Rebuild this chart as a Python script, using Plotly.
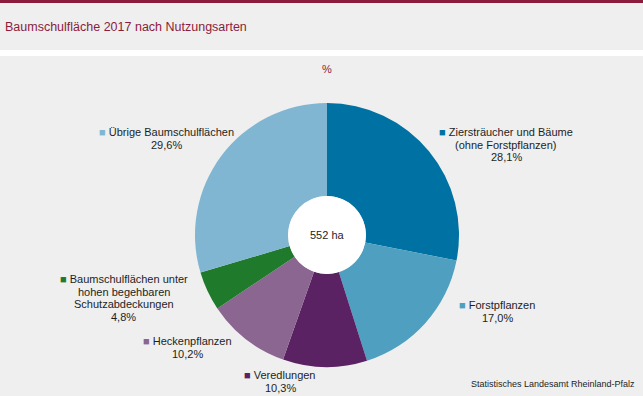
import plotly.graph_objects as go

W, H = 643, 396

categories = [
    "Ziersträucher und Bäume<br>(ohne Forstpflanzen)",
    "Forstpflanzen",
    "Veredlungen",
    "Heckenpflanzen",
    "Baumschulflächen unter<br>hohen begehbaren<br>Schutzabdeckungen",
    "Übrige Baumschulflächen",
]
shares = [28.1, 17.0, 10.3, 10.2, 4.8, 29.6]
colors = ["#0071A3", "#4F9FC1", "#5B2263", "#8A6690", "#1F7A2B", "#80B6D2"]
pct_labels = ["28,1%", "17,0%", "10,3%", "10,2%", "4,8%", "29,6%"]
total_label = "552 ha"
title_text = "Baumschulfläche 2017 nach Nutzungsarten"
unit_text = "%"
source_text = "Statistisches Landesamt Rheinland-Pfalz"

# label block anchors in pixels (centre x, first line y) - layout only
label_pos = [(506, 132), (497, 305), (280, 375), (187, 341), (124, 279), (166, 132.5)]
LINE_STEP = 12.6

BG = "#EEEFEE"
MAROON = "#8C1C3C"
FONT = "Liberation Sans, Arial, sans-serif"
TXT = "#1E1E1E"


def px(x):
    return x / W


def py(y):
    return 1 - y / H


cx, cy, r = 327, 235, 132
hole = 0.295

fig = go.Figure(
    go.Pie(
        labels=[c.replace("<br>", " ") for c in categories],
        values=shares,
        marker=dict(colors=colors, line=dict(width=0)),
        sort=False,
        direction="clockwise",
        rotation=0,
        hole=hole,
        textinfo="none",
        hoverinfo="label+percent",
        showlegend=False,
        domain=dict(x=[px(cx - r), px(cx + r)], y=[py(cy + r), py(cy - r)]),
    )
)

shapes = [
    dict(type="rect", xref="paper", yref="paper", x0=0, x1=1, y0=py(3), y1=1,
         fillcolor=MAROON, line=dict(width=0), layer="below"),
    dict(type="rect", xref="paper", yref="paper", x0=0, x1=1, y0=py(56), y1=py(50),
         fillcolor="#FFFFFF", line=dict(width=0), layer="below"),
    dict(type="circle", xref="paper", yref="paper",
         x0=px(cx - r * hole), x1=px(cx + r * hole),
         y0=py(cy + r * hole), y1=py(cy - r * hole),
         fillcolor="#FFFFFF", line=dict(width=0), layer="above"),
]

annotations = [
    dict(text=title_text, x=px(3), y=py(27), xanchor="left", yanchor="middle",
         showarrow=False, font=dict(family=FONT, size=12.5, color=MAROON)),
    dict(text=unit_text, x=px(cx), y=py(69), xanchor="center", yanchor="middle",
         showarrow=False, font=dict(family=FONT, size=11, color=MAROON)),
    dict(text=total_label, x=px(cx), y=py(cy), xanchor="center", yanchor="middle",
         showarrow=False, font=dict(family=FONT, size=11, color=TXT)),
    dict(text=source_text, x=px(637), y=py(384), xanchor="right", yanchor="middle",
         showarrow=False, font=dict(family=FONT, size=9, color=TXT)),
]

for cat, pct, col, (lx, ly) in zip(categories, pct_labels, colors, label_pos):
    lines = cat.split("<br>") + [pct]
    for i, line in enumerate(lines):
        if i == 0:
            line = f"<span style='color:{col};font-size:11px'>■</span> {line}"
        annotations.append(
            dict(text=line, x=px(lx), y=py(ly + i * LINE_STEP),
                 xanchor="center", yanchor="middle", align="center",
                 showarrow=False, font=dict(family=FONT, size=11, color=TXT))
        )

fig.update_layout(
    width=W, height=H,
    margin=dict(l=0, r=0, t=0, b=0),
    paper_bgcolor=BG, plot_bgcolor=BG,
    shapes=shapes, annotations=annotations,
)

fig.write_html(
    "out.html",
    config=dict(displayModeBar=False),
    post_script="document.body.style.margin='0';document.body.style.overflow='hidden';",
)
